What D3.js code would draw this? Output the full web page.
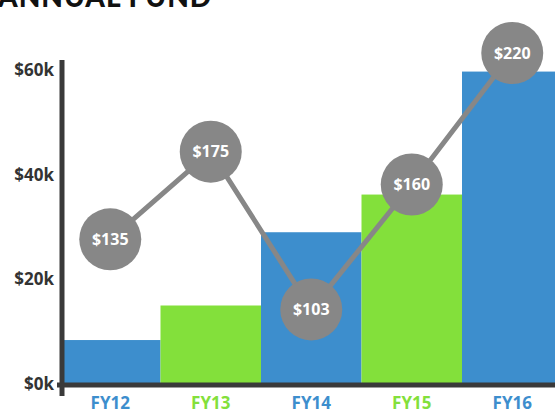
<!DOCTYPE html>
<html>
<head>
<meta charset="utf-8">
<script src="https://cdn.jsdelivr.net/npm/d3@7"></script>
<style>
	body { margin: 0; background: #fff; }
	svg { display: block; }
	.title { font-family: Lato, sans-serif; font-weight: 900; font-size: 28px; fill: #111; letter-spacing: 1px; }
	.y-tick { font-family: 'Open Sans', sans-serif; font-weight: 700; font-size: 17px; fill: #333; }
	.x-tick { font-family: 'Open Sans', sans-serif; font-weight: 700; font-size: 17px; }
	.bubble-text { font-family: 'Open Sans', sans-serif; font-weight: 700; font-size: 16px; fill: #fff; }
</style>
</head>
<body>
<svg></svg>
<script>
const years = ['FY12', 'FY13', 'FY14', 'FY15', 'FY16'];
const fundK = [8.4, 15.0, 29.0, 36.2, 59.7];
const giftAmounts = [135, 175, 103, 160, 220];
const yTicks = [0, 20, 40, 60];

const width = 555;
const height = 411;
const blue = '#3d8ecd';
const green = '#83e03b';
const gray = '#878787';
const axisColor = '#3a3a3a';
const bubbleRadius = 31;

const svg = d3.select('svg')
	.attr('width', width)
	.attr('height', height);

const data = years.map((d, i) => ({ year: d, fund: fundK[i], gift: giftAmounts[i] }));
const colorOf = (d, i) => i % 2 === 0 ? blue : green;

const xScale = d3.scaleBand()
	.domain(years)
	.range([60, 562.5])
	.padding(0);

const yScale = d3.scaleLinear()
	.domain([0, 60])
	.range([384, 70]);

// the bubbles sit on their own scale
const giftScale = d3.scaleLinear()
	.domain([100, 220])
	.range([316, 53]);

svg.append('text')
	.attr('class', 'title')
	.attr('x', -2)
	.attr('y', 7)
	.text('ANNUAL FUND');

svg.selectAll('rect.bar').data(data)
	.enter().append('rect')
		.attr('class', 'bar')
		.attr('x', d => xScale(d.year))
		.attr('y', d => yScale(d.fund))
		.attr('width', xScale.bandwidth())
		.attr('height', d => yScale(0) - yScale(d.fund))
		.attr('fill', colorOf);

// axes
svg.append('line')
	.attr('x1', 62).attr('x2', 62)
	.attr('y1', 60).attr('y2', 396)
	.attr('stroke', axisColor)
	.attr('stroke-width', 5);

svg.append('line')
	.attr('x1', 57).attr('x2', width)
	.attr('y1', yScale(0) + 1).attr('y2', yScale(0) + 1)
	.attr('stroke', axisColor)
	.attr('stroke-width', 5);

svg.selectAll('text.y-tick').data(yTicks)
	.enter().append('text')
		.attr('class', 'y-tick')
		.attr('x', 54)
		.attr('y', d => yScale(d))
		.attr('dy', '0.35em')
		.attr('text-anchor', 'end')
		.text(d => '$' + d + 'k');

svg.selectAll('text.x-tick').data(data)
	.enter().append('text')
		.attr('class', 'x-tick')
		.attr('x', d => xScale(d.year) + xScale.bandwidth() / 2)
		.attr('y', 403)
		.attr('dy', '0.35em')
		.attr('text-anchor', 'middle')
		.attr('fill', colorOf)
		.text(d => d.year);

const cx = d => xScale(d.year) + xScale.bandwidth() / 2;
const cy = d => giftScale(d.gift);

svg.append('path')
	.datum(data)
	.attr('d', d3.line().x(cx).y(cy))
	.attr('fill', 'none')
	.attr('stroke', gray)
	.attr('stroke-width', 5);

const bubbles = svg.selectAll('g.bubble').data(data)
	.enter().append('g')
		.attr('class', 'bubble')
		.attr('transform', d => `translate(${cx(d)},${cy(d)})`);

bubbles.append('circle')
	.attr('r', bubbleRadius)
	.attr('fill', gray);

bubbles.append('text')
	.attr('class', 'bubble-text')
	.attr('text-anchor', 'middle')
	.attr('dy', '0.35em')
	.text(d => '$' + d.gift);
</script>
</body>
</html>
